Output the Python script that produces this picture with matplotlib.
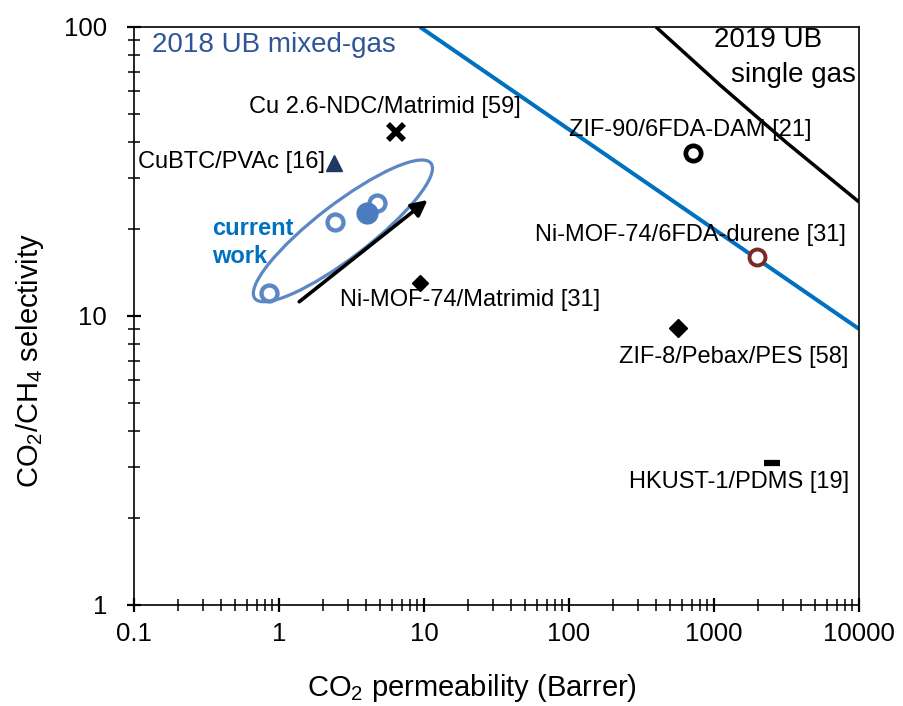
import numpy as np
import matplotlib
matplotlib.use("Agg")
import matplotlib.pyplot as plt
from matplotlib.patches import Ellipse
from matplotlib.ticker import LogLocator, FuncFormatter, NullFormatter
from matplotlib.transforms import ScaledTranslation

plt.rcParams['font.family'] = ['Liberation Sans', 'DejaVu Sans']
plt.rcParams['mathtext.fontset'] = 'custom'
plt.rcParams['mathtext.rm'] = 'Liberation Sans'
plt.rcParams['mathtext.default'] = 'regular'

# Upper bounds (CO2 permeability in Barrer, CO2/CH4 selectivity)
ub2018_perm = [9.38, 10000]
ub2018_sel = [100, 9.02]
ub2019_perm = [398, 1099, 3184, 10000]
ub2019_sel = [100, 63.0, 39.7, 24.8]

# Current work membranes
cw_open_perm = [0.853, 2.43, 4.74]
cw_open_sel = [12.0, 21.1, 24.6]
cw_filled_perm = [4.05]
cw_filled_sel = [22.7]

# Literature mixed-matrix membranes
lit_names = ["Cu 2.6-NDC/Matrimid [59]", "CuBTC/PVAc [16]", "Ni-MOF-74/Matrimid [31]",
             "ZIF-90/6FDA-DAM [21]", "Ni-MOF-74/6FDA-durene [31]", "ZIF-8/Pebax/PES [58]",
             "HKUST-1/PDMS [19]"]
lit_perm = [6.41, 2.39, 9.38, 716, 1983, 565, 2512]
lit_sel = [43.3, 33.8, 13.0, 36.6, 16.0, 9.09, 3.10]

# Trend arrow (start, end) for the current work series
arrow_perm = [1.38, 10.6]
arrow_sel = [11.2, 25.2]

fig = plt.figure(figsize=(9.04, 7.06), dpi=100)
ax = fig.add_axes([0.1482, 0.1431, 0.802, 0.8187])
ax.set_xscale('log')
ax.set_yscale('log')
ax.set_xlim(0.1, 10000)
ax.set_ylim(1, 100)

# Upper bound lines
ax.plot(ub2018_perm, ub2018_sel, color='#0070C0', lw=2.9, solid_capstyle='butt', zorder=2)
ax.plot(ub2019_perm, ub2019_sel, color='black', lw=2.5, solid_capstyle='butt', zorder=2)

# Literature markers
styles = [
    dict(marker='x', ms=11.5, mew=4.0, color='black'),
    dict(marker='^', ms=11.5, color='#1F3864', mec='#1F3864'),
    dict(marker='D', ms=8, color='black'),
    dict(marker='o', ms=11, mfc='white', mec='black', mew=3.4),
    dict(marker='o', ms=11.5, mfc='white', mec='#7A2A26', mew=2.8),
    dict(marker='D', ms=9, color='black'),
    dict(marker='_', ms=11, mew=4.5, color='black'),
]
offsets = [(-8, 18, 'center'), (-6.5, 0.7, 'right'), (36, -12, 'center'),
           (-2, 16.5, 'center'), (-48, 16, 'center'), (40, -21, 'center'),
           (-24, -14, 'center')]
for name, px, sy, st, (dx, dy, ha) in zip(lit_names, lit_perm, lit_sel, styles, offsets):
    ax.plot([px], [sy], linestyle='none', zorder=4, **st)
    ax.annotate(name, (px, sy), xytext=(dx, dy), textcoords='offset points',
                ha=ha, va='center', fontsize=17, color='black', zorder=5)

# Current work
cw_color = '#5B87C5'
ax.plot(cw_open_perm, cw_open_sel, linestyle='none', marker='o', ms=11.5,
        mfc='white', mec=cw_color, mew=3.1, zorder=4)
ax.plot(cw_filled_perm, cw_filled_sel, linestyle='none', marker='o', ms=15,
        color='#4A7CBF', zorder=5)

# Ellipse grouping the current work points
ell_center = (2.76, 19.7)
ell = Ellipse((0, 0), 2.22, 0.54, angle=37.5, fill=False, edgecolor=cw_color, lw=2.3,
              transform=fig.dpi_scale_trans + ScaledTranslation(ell_center[0], ell_center[1], ax.transData),
              zorder=3)
ax.add_patch(ell)

ax.annotate('', xy=(arrow_perm[1], arrow_sel[1]), xytext=(arrow_perm[0], arrow_sel[0]),
            arrowprops=dict(arrowstyle='-|>', lw=2.6, color='black', mutation_scale=24,
                            shrinkA=0, shrinkB=0), zorder=4)

ax.text(0.1076, 0.640, 'current', transform=ax.transAxes, fontsize=17, fontweight='bold',
        color='#0070C0', ha='left', va='baseline')
ax.text(0.1076, 0.5917, 'work', transform=ax.transAxes, fontsize=17, fontweight='bold',
        color='#0070C0', ha='left', va='baseline')

ax.text(0.025, 0.969, '2018 UB mixed-gas', transform=ax.transAxes, fontsize=20,
        color='#2F5597', ha='left', va='center')
ax.text(0.874, 0.9775, '2019 UB', transform=ax.transAxes, fontsize=20,
        color='black', ha='center', va='center')
ax.text(0.909, 0.917, 'single gas', transform=ax.transAxes, fontsize=20,
        color='black', ha='center', va='center')

# Axes styling
for sp in ax.spines.values():
    sp.set_linewidth(1.2)
    sp.set_color('black')

fmt = FuncFormatter(lambda v, p: '{:g}'.format(v))
for axis in (ax.xaxis, ax.yaxis):
    axis.set_major_locator(LogLocator(base=10))
    axis.set_minor_locator(LogLocator(base=10, subs=np.arange(2, 10)))
    axis.set_major_formatter(fmt)
    axis.set_minor_formatter(NullFormatter())

ax.tick_params(which='major', direction='inout', length=10, width=1.6, labelsize=18.5)
ax.tick_params(which='minor', direction='inout', length=8, width=1.1)
ax.tick_params(axis='x', which='major', pad=7.2)
ax.tick_params(axis='y', which='major', pad=14.4)

fig.text(472 / 904, (706 - 696) / 706, 'CO$_2$ permeability (Barrer)', fontsize=21,
         ha='center', va='baseline')
fig.text(30 / 904, 1 - 360 / 706, 'CO$_2$/CH$_4$ selectivity', fontsize=21,
         ha='center', va='center', rotation=90)

fig.savefig('out.png', dpi=100)
